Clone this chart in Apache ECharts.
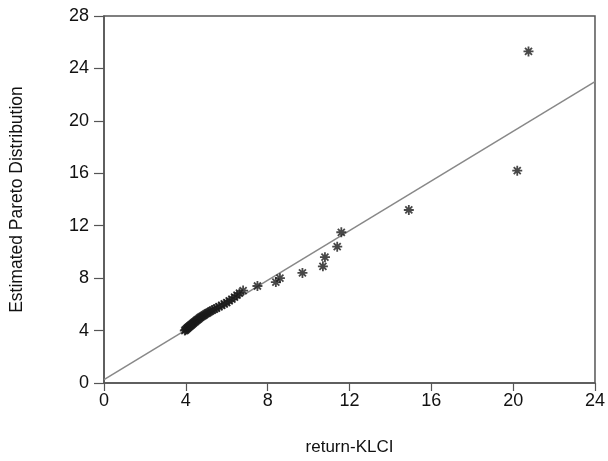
<!DOCTYPE html>
<html>
<head>
<meta charset="utf-8">
<script src="https://cdn.jsdelivr.net/npm/echarts@6/dist/echarts.min.js"></script>
<style>
  html, body { margin: 0; padding: 0; background: #fff; }
  #chart { width: 608px; height: 461px; }
</style>
</head>
<body>
<div id="chart"></div>
<script>
  // observed exceedances (x) vs estimated pareto quantiles (y)
  var klci = [3.95, 3.98, 4.02, 4.05, 4.08, 4.1, 4.13, 4.16, 4.19, 4.22, 4.25, 4.28, 4.31, 4.35,
    4.38, 4.42, 4.46, 4.5, 4.54, 4.58, 4.63, 4.68, 4.73, 4.79, 4.85, 4.91, 4.98, 5.05, 5.13,
    5.21, 5.3, 5.4, 5.5, 5.62, 5.75, 5.88, 6.0, 6.12, 6.25, 6.38, 6.5, 6.62, 6.8, 7.5, 8.4,
    8.6, 9.7, 10.7, 10.8, 11.4, 11.6, 14.9, 20.2, 20.75];
  var pareto = [4.0, 4.05, 4.1, 4.14, 4.18, 4.22, 4.26, 4.3, 4.34, 4.38, 4.42, 4.46, 4.5, 4.55,
    4.59, 4.64, 4.69, 4.74, 4.79, 4.84, 4.9, 4.96, 5.02, 5.08, 5.14, 5.2, 5.27, 5.34, 5.41,
    5.48, 5.56, 5.64, 5.72, 5.82, 5.92, 6.03, 6.14, 6.26, 6.4, 6.55, 6.7, 6.85, 7.05, 7.4, 7.7,
    8.0, 8.4, 8.9, 9.6, 10.4, 11.5, 13.2, 16.2, 25.3];
  // fitted line end points
  var fitX = [0, 24];
  var fitY = [0.25, 23.0];

  var points = klci.map(function (v, i) { return [v, pareto[i]]; });
  var fit = fitX.map(function (v, i) { return [v, fitY[i]]; });

  var axisCol = '#555';
  var font = 'Liberation Sans, Arial, sans-serif';

  var myChart = echarts.init(document.getElementById('chart'));
  myChart.setOption({
    animation: false,
    grid: {
      left: 104, top: 16, width: 492, height: 371,
      show: true, borderColor: axisCol, borderWidth: 1.5, backgroundColor: 'transparent'
    },
    xAxis: {
      type: 'value', min: 0, max: 24, interval: 4,
      name: 'return-KLCI', nameLocation: 'middle', nameGap: 56,
      nameTextStyle: { fontSize: 17, color: '#111', fontFamily: font },
      axisLine: { show: true, lineStyle: { color: axisCol, width: 1.5 } },
      axisTick: { show: true, inside: false, length: 8, lineStyle: { color: axisCol, width: 1.2 } },
      axisLabel: { fontSize: 18, color: '#111', margin: 9, fontFamily: font },
      splitLine: { show: false }
    },
    yAxis: {
      type: 'value', min: 0, max: 28, interval: 4,
      name: 'Estimated Pareto Distribution', nameLocation: 'middle', nameGap: 78,
      nameTextStyle: { fontSize: 17.5, color: '#111', fontFamily: font },
      axisLine: { show: true, lineStyle: { color: axisCol, width: 1.5 } },
      axisTick: { show: true, inside: false, length: 10, lineStyle: { color: axisCol, width: 1.2 } },
      axisLabel: { fontSize: 18, color: '#111', margin: 15, fontFamily: font },
      splitLine: { show: false }
    },
    series: [{
      type: 'line',
      data: fit,
      showSymbol: false,
      lineStyle: { color: '#888', width: 1.5 },
      z: 1
    }, {
      type: 'scatter',
      data: points,
      symbol: 'path://M5,0L5,10M0,5L10,5M1.5,1.5L8.5,8.5M8.5,1.5L1.5,8.5',
      symbolSize: 10,
      itemStyle: { color: 'transparent', borderColor: '#1a1a1a', borderWidth: 1.8 },
      z: 2
    }]
  });
</script>
</body>
</html>
